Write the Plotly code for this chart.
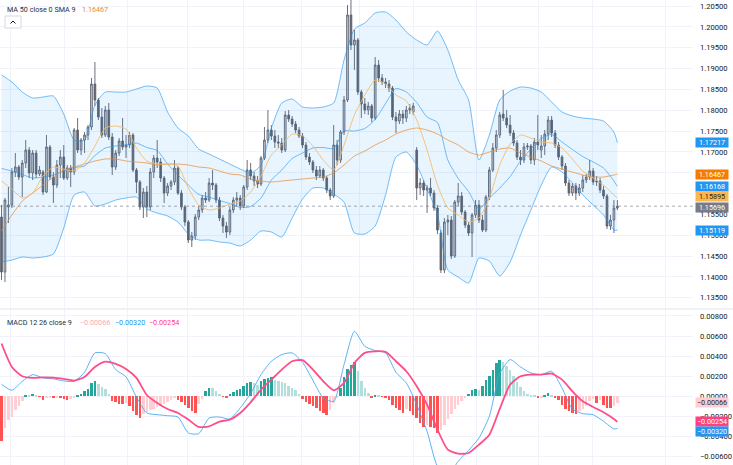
import plotly.graph_objects as go

# ---------------- data ----------------
bar_open = [1.15436, 1.14116, 1.15676, 1.15724, 1.16516, 1.16636, 1.16396, 1.16732, 1.17044, 1.16492,
            1.16972, 1.16468, 1.16516, 1.16036, 1.17116, 1.16396, 1.16204, 1.16684, 1.16876, 1.16372,
            1.16612, 1.16516, 1.17524, 1.17044, 1.17284, 1.17404, 1.17596, 1.18628, 1.18244, 1.17836,
            1.17404, 1.18004, 1.17356, 1.16636, 1.16972, 1.17260, 1.17116, 1.17164, 1.17404, 1.16564,
            1.16276, 1.15676, 1.16036, 1.15676, 1.16516, 1.16852, 1.16756, 1.16372, 1.16012, 1.16180,
            1.16276, 1.16612, 1.16012, 1.15676, 1.15316, 1.14884, 1.14980, 1.15436, 1.15604, 1.15892,
            1.15844, 1.16252, 1.16204, 1.15844, 1.15412, 1.15220, 1.15076, 1.15604, 1.15844, 1.15892,
            1.15700, 1.16156, 1.16564, 1.16420, 1.16300, 1.16228, 1.16852, 1.17284, 1.17524, 1.17380,
            1.17236, 1.17212, 1.17044, 1.17884, 1.17788, 1.17668, 1.17524, 1.17380, 1.17164, 1.16876,
            1.16756, 1.16564, 1.16420, 1.16564, 1.16372, 1.16084, 1.15940, 1.17164, 1.16804, 1.17476,
            1.18244, 1.20284, 1.19564, 1.19684, 1.18436, 1.18148, 1.18004, 1.18100, 1.17812, 1.19084,
            1.18772, 1.18676, 1.18628, 1.18532, 1.17836, 1.17740, 1.17908, 1.17812, 1.18004, 1.17956,
            1.17044, 1.16132, 1.16252, 1.16084, 1.16132, 1.16012, 1.15652, 1.15052, 1.14164, 1.15316,
            1.15364, 1.14500, 1.15796, 1.15940, 1.15556, 1.15244, 1.15052, 1.15484, 1.15724, 1.15364,
            1.15124, 1.15916, 1.16564, 1.17092, 1.17404, 1.17908, 1.17812, 1.17644, 1.17452, 1.17212,
            1.16876, 1.16804, 1.17116, 1.17140, 1.16804, 1.17236, 1.17044, 1.17140, 1.17428, 1.17764,
            1.17452, 1.17164, 1.16876, 1.16660, 1.16252, 1.16012, 1.16180, 1.16012, 1.16132, 1.16324,
            1.16396, 1.16540, 1.16276, 1.16300, 1.16084, 1.15940, 1.15220, 1.15364, 1.15652]
bar_close = [1.14116, 1.15844, 1.15724, 1.16516, 1.16636, 1.16396, 1.16732, 1.17044, 1.16492, 1.16972,
             1.16468, 1.16564, 1.16036, 1.17116, 1.16396, 1.16204, 1.16684, 1.16876, 1.16372, 1.16612,
             1.16516, 1.17524, 1.17044, 1.17284, 1.17404, 1.17596, 1.18628, 1.18244, 1.17836, 1.17404,
             1.18004, 1.17356, 1.16636, 1.16972, 1.17260, 1.17116, 1.17164, 1.17404, 1.16564, 1.16276,
             1.15676, 1.16036, 1.15676, 1.16516, 1.16852, 1.16756, 1.16372, 1.16012, 1.16180, 1.16276,
             1.16612, 1.16012, 1.15676, 1.15316, 1.14884, 1.14980, 1.15436, 1.15604, 1.15892, 1.15844,
             1.16252, 1.16204, 1.15844, 1.15412, 1.15220, 1.15076, 1.15604, 1.15844, 1.15892, 1.15700,
             1.16156, 1.16564, 1.16420, 1.16300, 1.16228, 1.16852, 1.17284, 1.17524, 1.17380, 1.17236,
             1.17212, 1.17044, 1.17884, 1.17788, 1.17668, 1.17524, 1.17380, 1.17164, 1.16876, 1.16756,
             1.16564, 1.16420, 1.16564, 1.16372, 1.16084, 1.15940, 1.17164, 1.16804, 1.17476, 1.18244,
             1.20284, 1.19564, 1.19684, 1.18436, 1.18148, 1.18004, 1.18100, 1.17812, 1.19084, 1.18772,
             1.18676, 1.18628, 1.18532, 1.17836, 1.17740, 1.17908, 1.17812, 1.18004, 1.18052, 1.18100,
             1.16132, 1.16252, 1.16084, 1.16132, 1.16012, 1.15652, 1.15124, 1.14164, 1.15316, 1.15364,
             1.14500, 1.15796, 1.15940, 1.15556, 1.15244, 1.15052, 1.15484, 1.15724, 1.15364, 1.15124,
             1.15916, 1.16564, 1.17092, 1.17404, 1.17884, 1.17812, 1.17644, 1.17452, 1.17212, 1.16876,
             1.16804, 1.17116, 1.17140, 1.16804, 1.17236, 1.17164, 1.17140, 1.17428, 1.17764, 1.17452,
             1.17164, 1.16876, 1.16660, 1.16252, 1.16012, 1.16180, 1.16012, 1.16132, 1.16324, 1.16396,
             1.16540, 1.16276, 1.16300, 1.16084, 1.15940, 1.15220, 1.15364, 1.15652, 1.15696]
bar_high = [1.15724, 1.15892, 1.16156, 1.16612, 1.16972, 1.16684, 1.16804, 1.17284, 1.17116, 1.17044,
            1.17044, 1.16660, 1.16564, 1.17404, 1.17164, 1.16516, 1.16804, 1.17044, 1.17164, 1.16684,
            1.16684, 1.17572, 1.17812, 1.17332, 1.17476, 1.17644, 1.18772, 1.19156, 1.18292, 1.18052,
            1.18100, 1.18172, 1.17452, 1.17044, 1.17332, 1.17812, 1.17404, 1.17476, 1.17452, 1.16612,
            1.16324, 1.16132, 1.16180, 1.16612, 1.16924, 1.17284, 1.16852, 1.16420, 1.16252, 1.16324,
            1.16804, 1.16660, 1.16084, 1.15724, 1.15364, 1.15076, 1.15508, 1.15700, 1.15964, 1.16036,
            1.16372, 1.16564, 1.16252, 1.15916, 1.15484, 1.15316, 1.15676, 1.15916, 1.16036, 1.15964,
            1.16204, 1.16804, 1.16732, 1.16516, 1.16420, 1.16900, 1.17596, 1.18004, 1.17644, 1.17524,
            1.17404, 1.17332, 1.17980, 1.18004, 1.17860, 1.17740, 1.17596, 1.17452, 1.17236, 1.16972,
            1.16804, 1.16660, 1.16660, 1.16612, 1.16420, 1.16132, 1.17644, 1.17284, 1.17524, 1.18340,
            1.20524, 1.20700, 1.19924, 1.19732, 1.18484, 1.18292, 1.18196, 1.18148, 1.19276, 1.19204,
            1.18868, 1.18772, 1.18724, 1.18580, 1.17956, 1.18004, 1.18004, 1.18100, 1.18148, 1.18172,
            1.17116, 1.16372, 1.16324, 1.16204, 1.16372, 1.16084, 1.15724, 1.15124, 1.15412, 1.15484,
            1.15460, 1.15844, 1.16252, 1.16036, 1.15604, 1.15316, 1.15532, 1.15844, 1.15844, 1.15484,
            1.15964, 1.16636, 1.17212, 1.17524, 1.17956, 1.18484, 1.18004, 1.17884, 1.17524, 1.17284,
            1.17044, 1.17212, 1.17212, 1.17188, 1.17332, 1.17884, 1.17404, 1.17524, 1.17860, 1.17860,
            1.17524, 1.17236, 1.16924, 1.16732, 1.16324, 1.16252, 1.16252, 1.16228, 1.16444, 1.16468,
            1.16804, 1.16612, 1.16420, 1.16372, 1.16180, 1.15988, 1.15484, 1.15844, 1.15844]
bar_low = [1.13924, 1.13876, 1.15292, 1.15652, 1.16396, 1.16324, 1.15916, 1.16612, 1.16372, 1.16324,
           1.16372, 1.16420, 1.15964, 1.16012, 1.16324, 1.15772, 1.16132, 1.16372, 1.16324, 1.16324,
           1.16156, 1.16444, 1.16972, 1.16924, 1.16972, 1.17284, 1.17524, 1.18100, 1.17764, 1.17332,
           1.17356, 1.17284, 1.16444, 1.16564, 1.16900, 1.17044, 1.16852, 1.17092, 1.16516, 1.16012,
           1.15604, 1.15412, 1.15436, 1.15604, 1.16372, 1.16612, 1.16276, 1.15772, 1.15940, 1.16084,
           1.16204, 1.15964, 1.15604, 1.15220, 1.14812, 1.14716, 1.14884, 1.15364, 1.15532, 1.15772,
           1.15796, 1.16084, 1.15772, 1.15340, 1.15052, 1.14932, 1.15004, 1.15532, 1.15700, 1.15604,
           1.15652, 1.16084, 1.16324, 1.16180, 1.16132, 1.16180, 1.16804, 1.17212, 1.17284, 1.17092,
           1.17092, 1.16972, 1.16996, 1.17716, 1.17596, 1.17452, 1.17332, 1.17092, 1.16804, 1.16684,
           1.16492, 1.16324, 1.16372, 1.16300, 1.16012, 1.15844, 1.15892, 1.16684, 1.16732, 1.17404,
           1.18196, 1.19444, 1.18964, 1.18364, 1.17812, 1.17908, 1.17884, 1.17716, 1.17764, 1.18676,
           1.18604, 1.18532, 1.18436, 1.17764, 1.17452, 1.17668, 1.17668, 1.17716, 1.17908, 1.17884,
           1.15844, 1.15964, 1.15940, 1.15532, 1.15940, 1.15580, 1.15028, 1.14092, 1.14092, 1.15004,
           1.14428, 1.14452, 1.15700, 1.15484, 1.15172, 1.14980, 1.14476, 1.15412, 1.15292, 1.15076,
           1.15076, 1.15844, 1.16516, 1.16996, 1.17332, 1.17740, 1.17572, 1.17380, 1.17140, 1.16804,
           1.16684, 1.16732, 1.17044, 1.16708, 1.16684, 1.17044, 1.16852, 1.16924, 1.17284, 1.17356,
           1.17092, 1.16804, 1.16564, 1.16180, 1.15940, 1.15940, 1.15844, 1.15940, 1.16036, 1.16252,
           1.16324, 1.16204, 1.16180, 1.16012, 1.15868, 1.15148, 1.15124, 1.15052, 1.15604]

# indicator readings taken every third bar (bar numbers)
ind_bar = list(range(0, 178, 3)) + [178]
bb_upper = [1.18844, 1.18676, 1.18436, 1.18292, 1.18316, 1.18340, 1.17908, 1.17284, 1.17284, 1.18124,
            1.18436, 1.18436, 1.18436, 1.18508, 1.18580, 1.18532, 1.17956, 1.17572, 1.17380, 1.17068,
            1.16948, 1.16828, 1.16708, 1.16588, 1.16492, 1.16684, 1.17572, 1.18172, 1.18268, 1.18076,
            1.18052, 1.18076, 1.18172, 1.19204, 1.19948, 1.20092, 1.20332, 1.20356, 1.20164, 1.19876,
            1.19684, 1.19564, 1.19900, 1.19444, 1.18724, 1.18244, 1.16804, 1.17404, 1.18244, 1.18460,
            1.18556, 1.18532, 1.18436, 1.18196, 1.17956, 1.17860, 1.17812, 1.17788, 1.17740, 1.17476,
            1.17217]
bb_basis = [1.16600, 1.16540, 1.16456, 1.16372, 1.16396, 1.16444, 1.16540, 1.16624, 1.16660, 1.16912,
            1.17092, 1.17140, 1.17164, 1.17212, 1.17104, 1.17032, 1.16708, 1.16444, 1.16204, 1.15976,
            1.15916, 1.15832, 1.15760, 1.15664, 1.15688, 1.15892, 1.16324, 1.16564, 1.16840, 1.16972,
            1.17092, 1.17104, 1.17080, 1.17500, 1.17500, 1.17560, 1.17776, 1.18160, 1.18520, 1.18436,
            1.18184, 1.17836, 1.17704, 1.16804, 1.16360, 1.16048, 1.15628, 1.15892, 1.16132, 1.16408,
            1.16780, 1.17068, 1.17320, 1.17416, 1.17236, 1.17056, 1.16888, 1.16756, 1.16612, 1.16300,
            1.16168]
bb_lower = [1.14356, 1.14404, 1.14476, 1.14452, 1.14476, 1.14548, 1.15172, 1.15964, 1.16036, 1.15700,
            1.15748, 1.15844, 1.15892, 1.15916, 1.15628, 1.15532, 1.15460, 1.15316, 1.15028, 1.14884,
            1.14884, 1.14836, 1.14812, 1.14740, 1.14884, 1.15100, 1.15076, 1.14956, 1.15412, 1.15868,
            1.16132, 1.16132, 1.15988, 1.15796, 1.15052, 1.15028, 1.15220, 1.15964, 1.16876, 1.16996,
            1.16684, 1.16108, 1.15508, 1.14164, 1.13996, 1.13852, 1.14452, 1.14380, 1.14020, 1.14356,
            1.15004, 1.15604, 1.16204, 1.16636, 1.16516, 1.16252, 1.15964, 1.15724, 1.15484, 1.15124,
            1.15119]
ma_slow = [1.15100, 1.15484, 1.15820, 1.16012, 1.16204, 1.16396, 1.16564, 1.16636, 1.16708, 1.16780,
           1.16828, 1.16828, 1.16780, 1.16756, 1.16732, 1.16684, 1.16708, 1.16708, 1.16684, 1.16636,
           1.16612, 1.16540, 1.16468, 1.16444, 1.16348, 1.16300, 1.16276, 1.16300, 1.16324, 1.16348,
           1.16372, 1.16396, 1.16492, 1.16684, 1.16900, 1.17020, 1.17164, 1.17284, 1.17428, 1.17524,
           1.17572, 1.17524, 1.17428, 1.17284, 1.17164, 1.16996, 1.16924, 1.16996, 1.17068, 1.17092,
           1.16972, 1.16876, 1.16780, 1.16660, 1.16588, 1.16516, 1.16444, 1.16396, 1.16396, 1.16444,
           1.16467]
ma_fast = [1.16300, 1.16108, 1.15892, 1.16012, 1.16420, 1.16636, 1.16588, 1.16540, 1.16732, 1.17140,
           1.17572, 1.17620, 1.17548, 1.17092, 1.16780, 1.16708, 1.16708, 1.16660, 1.16132, 1.15724,
           1.15604, 1.15652, 1.15748, 1.15820, 1.16036, 1.16420, 1.16924, 1.17164, 1.17428, 1.17380,
           1.17140, 1.16804, 1.16564, 1.17164, 1.17884, 1.18364, 1.18724, 1.18628, 1.18364, 1.18220,
           1.17764, 1.17044, 1.16204, 1.15652, 1.15484, 1.15316, 1.15412, 1.15892, 1.16684, 1.17188,
           1.17404, 1.17332, 1.17236, 1.17212, 1.17092, 1.16828, 1.16540, 1.16372, 1.16204, 1.15964,
           1.15895]

macd_hist = [-0.00448, -0.00315, -0.00239, -0.00206, -0.00133, -0.00093, -0.00050, 0.00010, 0.00007, 0.00027,
             0.00010, -0.00007, -0.00040, -0.00017, -0.00010, -0.00020, -0.00013, -0.00020, -0.00027, -0.00033,
             -0.00027, -0.00010, 0.00013, 0.00027, 0.00050, 0.00073, 0.00133, 0.00156, 0.00126, 0.00093,
             0.00073, 0.00027, -0.00050, -0.00060, -0.00073, -0.00080, -0.00066, -0.00093, -0.00149, -0.00183,
             -0.00216, -0.00173, -0.00153, -0.00139, -0.00126, -0.00106, -0.00093, -0.00073, -0.00053, -0.00033,
             -0.00020, -0.00040, -0.00060, -0.00083, -0.00116, -0.00146, -0.00166, -0.00073, -0.00027, 0.00050,
             0.00083, 0.00080, 0.00050, 0.00020, -0.00007, -0.00017, 0.00020, 0.00040, 0.00060, 0.00073,
             0.00100, 0.00133, 0.00143, 0.00133, 0.00116, 0.00149, 0.00173, 0.00186, 0.00193, 0.00166,
             0.00153, 0.00139, 0.00133, 0.00106, 0.00083, 0.00060, 0.00027, -0.00027, -0.00053, -0.00073,
             -0.00100, -0.00120, -0.00146, -0.00166, -0.00183, -0.00133, -0.00066, -0.00017, 0.00083, 0.00193,
             0.00272, 0.00315, 0.00339, 0.00249, 0.00149, 0.00083, 0.00033, -0.00013, 0.00010, 0.00007,
             -0.00007, -0.00017, -0.00040, -0.00083, -0.00116, -0.00139, -0.00166, -0.00126, -0.00149, -0.00183,
             -0.00216, -0.00266, -0.00305, -0.00282, -0.00305, -0.00315, -0.00365, -0.00332, -0.00282, -0.00226,
             -0.00173, -0.00126, -0.00086, -0.00050, -0.00020, 0.00027, 0.00060, 0.00073, 0.00066, 0.00100,
             0.00166, 0.00206, 0.00266, 0.00332, 0.00359, 0.00339, 0.00305, 0.00259, 0.00199, 0.00139,
             0.00093, 0.00050, 0.00027, 0.00017, 0.00013, -0.00017, -0.00010, 0.00013, 0.00033, 0.00017,
             -0.00010, -0.00040, -0.00083, -0.00126, -0.00149, -0.00166, -0.00173, -0.00149, -0.00126, -0.00093,
             -0.00050, -0.00027, -0.00066, -0.00040, -0.00086, -0.00113, -0.00120, -0.00100, -0.00066]
macd_line = [0.00120, 0.00060, 0.00149, 0.00216, 0.00183, 0.00173, 0.00153, 0.00149, 0.00239, 0.00432,
             0.00425, 0.00266, 0.00193, -0.00007, -0.00166, -0.00183, -0.00193, -0.00206, -0.00365, -0.00372,
             -0.00216, -0.00206, -0.00226, -0.00116, 0.00027, 0.00216, 0.00349, 0.00415, 0.00432, 0.00339,
             0.00159, -0.00017, -0.00050, 0.00315, 0.00647, 0.00498, 0.00455, 0.00432, 0.00239, 0.00133,
             -0.00083, -0.00349, -0.00697, -0.00780, -0.00647, -0.00538, -0.00415, -0.00199, 0.00226, 0.00365,
             0.00292, 0.00232, 0.00216, 0.00249, 0.00083, -0.00126, -0.00173, -0.00183, -0.00249, -0.00325,
             -0.00320]
signal_line = [0.00525, 0.00292, 0.00199, 0.00183, 0.00189, 0.00186, 0.00173, 0.00156, 0.00193, 0.00292,
               0.00345, 0.00322, 0.00272, 0.00183, 0.00013, -0.00066, -0.00126, -0.00166, -0.00232, -0.00305,
               -0.00299, -0.00252, -0.00232, -0.00166, -0.00060, 0.00066, 0.00166, 0.00266, 0.00349, 0.00359,
               0.00266, 0.00149, 0.00060, 0.00133, 0.00332, 0.00432, 0.00448, 0.00442, 0.00349, 0.00249,
               0.00100, -0.00083, -0.00332, -0.00531, -0.00571, -0.00564, -0.00481, -0.00382, -0.00126, 0.00116,
               0.00199, 0.00216, 0.00216, 0.00226, 0.00166, 0.00050, -0.00050, -0.00106, -0.00159, -0.00226,
               -0.00254]

price_ticks = [1.135, 1.140, 1.145, 1.150, 1.155, 1.160, 1.165, 1.170, 1.175, 1.180, 1.185, 1.190, 1.195, 1.200, 1.205]
price_ticks_hidden = [1.160, 1.165]   # covered by the price tags in the reference
macd_ticks = [-0.006, -0.004, -0.002, 0.0, 0.002, 0.004, 0.006, 0.008]

legend_main = "MA 50 close 0 SMA 9"
legend_macd = "MACD 12 26 close 9"

# ---------------- layout helpers ----------------
W, H = 733, 465
PLOT_R = 693
def px(x):
    return x / PLOT_R
def py(y):
    return 1 - y / H

N = len(bar_close)
bars = list(range(N))
time_grid = [2.5, 18.1, 36.3, 53.9, 69.8, 86.8, 103.6, 119.2, 137.4, 155.1, 170.9, 192.0]

BLUE = "rgba(33,150,243,0.62)"
FILL = "rgba(33,150,243,0.10)"
SLOW = "rgba(236,140,50,0.72)"
FAST = "rgba(247,186,100,0.85)"

fig = go.Figure()
fig.add_trace(go.Scatter(x=ind_bar, y=bb_lower, mode="lines", line=dict(color=BLUE, width=1, shape="spline", smoothing=0.6),
                         hoverinfo="skip", xaxis="x", yaxis="y"))
fig.add_trace(go.Scatter(x=ind_bar, y=bb_upper, mode="lines", line=dict(color=BLUE, width=1, shape="spline", smoothing=0.6),
                         fill="tonexty", fillcolor=FILL, hoverinfo="skip", xaxis="x", yaxis="y"))
fig.add_trace(go.Candlestick(x=bars, open=bar_open, high=bar_high, low=bar_low, close=bar_close,
                             increasing=dict(line=dict(color="#5d606b", width=0.9), fillcolor="#d3d5da"),
                             decreasing=dict(line=dict(color="#5d606b", width=0.9), fillcolor="#5d606b"),
                             whiskerwidth=0, hoverinfo="skip", xaxis="x", yaxis="y"))
fig.add_trace(go.Scatter(x=ind_bar, y=bb_basis, mode="lines", line=dict(color=BLUE, width=1, shape="spline", smoothing=0.6),
                         hoverinfo="skip", xaxis="x", yaxis="y"))
fig.add_trace(go.Scatter(x=ind_bar, y=ma_slow, mode="lines", line=dict(color=SLOW, width=1, shape="spline", smoothing=0.6),
                         hoverinfo="skip", xaxis="x", yaxis="y"))
fig.add_trace(go.Scatter(x=ind_bar, y=ma_fast, mode="lines", line=dict(color=FAST, width=1, shape="spline", smoothing=0.6),
                         hoverinfo="skip", xaxis="x", yaxis="y"))

hist_colors = []
for k, v in enumerate(macd_hist):
    prev = macd_hist[k - 1] if k else v
    if v >= 0:
        hist_colors.append("#26a69a" if v >= prev else "#b2dfdb")
    else:
        hist_colors.append("#ff5252" if v <= prev else "#ffcdd2")
fig.add_trace(go.Bar(x=list(range(len(macd_hist))), y=macd_hist, marker=dict(color=hist_colors, line=dict(width=0)),
                     width=0.72, hoverinfo="skip", xaxis="x2", yaxis="y2"))
fig.add_trace(go.Scatter(x=ind_bar, y=macd_line, mode="lines",
                         line=dict(color="rgba(66,165,245,0.85)", width=1, shape="spline", smoothing=0.6),
                         hoverinfo="skip", xaxis="x2", yaxis="y2"))
fig.add_trace(go.Scatter(x=ind_bar, y=signal_line, mode="lines",
                         line=dict(color="#ff4d88", width=1.8, shape="spline", smoothing=0.6),
                         hoverinfo="skip", xaxis="x2", yaxis="y2"))

xr = [(0 - 1.5) / 3.46, (PLOT_R - 1.5) / 3.46]
common_x = dict(range=xr, showticklabels=False, tickmode="array", tickvals=time_grid, showgrid=True,
                gridcolor="#f0f3fa", gridwidth=1, zeroline=False, showline=False, ticks="", fixedrange=True)

def minus(s):
    return s.replace("-", "\u2212")

price_text = ["" if any(abs(t - h) < 1e-9 for h in price_ticks_hidden) else f"{t:.5f}" for t in price_ticks]
macd_text = [minus(f"{t:.5f}") for t in macd_ticks]

fig.update_layout(
    width=W, height=H, margin=dict(l=0, r=40, t=0, b=0),
    paper_bgcolor="white", plot_bgcolor="white", showlegend=False,
    font=dict(family="Roboto", size=8, color="#131722"),
    xaxis=dict(domain=[0, 1], anchor="y", rangeslider=dict(visible=False), **common_x),
    xaxis2=dict(domain=[0, 1], anchor="y2", matches="x", **common_x),
    yaxis=dict(domain=[1 - 308 / H, 1], side="right", range=[1.13253, 1.20644], tickmode="array",
               tickvals=price_ticks, ticktext=price_text, showgrid=True, gridcolor="#f0f3fa", zeroline=False,
               ticks="", ticklabelstandoff=6, tickfont=dict(size=7.6, color="#131722"), fixedrange=True),
    yaxis2=dict(domain=[0, 155 / H], side="right", range=[-0.006836, 0.008587], tickmode="array",
                tickvals=macd_ticks, ticktext=macd_text, showgrid=True, gridcolor="#f0f3fa", zeroline=False,
                ticks="", ticklabelstandoff=6, tickfont=dict(size=7.6, color="#131722"), fixedrange=True),
    bargap=0,
)

shapes = [
    dict(type="line", xref="paper", yref="y", x0=0, x1=1, y0=bar_close[-1], y1=bar_close[-1],
         line=dict(color="rgba(120,123,134,0.65)", width=1, dash="dot")),
    dict(type="line", xref="paper", yref="paper", x0=0, x1=W / PLOT_R, y0=py(309), y1=py(309),
         line=dict(color="#e0e3eb", width=1)),
    dict(type="rect", xref="paper", yref="paper", x0=px(5), x1=px(21), y0=py(28), y1=py(16),
         line=dict(color="#d6d8de", width=1), fillcolor="white"),
    dict(type="path", xref="paper", yref="paper",
         path=f"M {px(10.5)},{py(23.5)} L {px(13)},{py(21)} L {px(15.5)},{py(23.5)}",
         line=dict(color="#131722", width=1)),
]
fig.update_layout(shapes=shapes)

def fmt(v):
    return minus(f"{v:.5f}")

ann = []
ann.append(dict(text=legend_main, x=px(5), y=py(10), xref="paper", yref="paper", xanchor="left", yanchor="middle",
                showarrow=False, font=dict(size=7.2, color="#2a2e39")))
ann.append(dict(text=fmt(ma_slow[-1]), x=px(80), y=py(10), xref="paper", yref="paper", xanchor="left", yanchor="middle",
                showarrow=False, font=dict(size=7.2, color="#ef8a22")))
ann.append(dict(text=legend_macd, x=px(5), y=py(322), xref="paper", yref="paper", xanchor="left", yanchor="middle",
                showarrow=False, font=dict(size=7.2, color="#2a2e39")))
for txt_val, xx, col in [(macd_hist[-1], 78, "#f7a8b8"), (macd_line[-1], 113, "#2196f3"), (signal_line[-1], 147, "#ff4081")]:
    ann.append(dict(text=fmt(txt_val), x=px(xx), y=py(322), xref="paper", yref="paper", xanchor="left",
                    yanchor="middle", showarrow=False, font=dict(size=7.2, color=col)))

tags = [
    (bb_upper[-1], "y", "#2196f3", "white", 0),
    (ma_slow[-1], "y", "#f57c00", "white", 0),
    (bb_basis[-1], "y", "#2196f3", "white", 0),
    (ma_fast[-1], "y", "#ffb74d", "#1e1e1e", 1),
    (bar_close[-1], "y", "#787b86", "white", -1),
    (bb_lower[-1], "y", "#2196f3", "white", 0),
    (macd_hist[-1], "y2", "#ffcdd2", "#1e1e1e", 0),
    (signal_line[-1], "y2", "#ff4081", "white", 0),
    (macd_line[-1], "y2", "#2196f3", "white", -3.5),
]
for val, yref, bg, fc, ys in tags:
    ann.append(dict(text=fmt(val), x=px(695), y=val, xref="paper", yref=yref, xanchor="left", yanchor="middle",
                    showarrow=False, bgcolor=bg, font=dict(size=7.2, color=fc), width=31, height=7.6,
                    borderpad=0.5, align="center", yshift=ys))
fig.update_layout(annotations=ann)

fig.write_html("out.html")
